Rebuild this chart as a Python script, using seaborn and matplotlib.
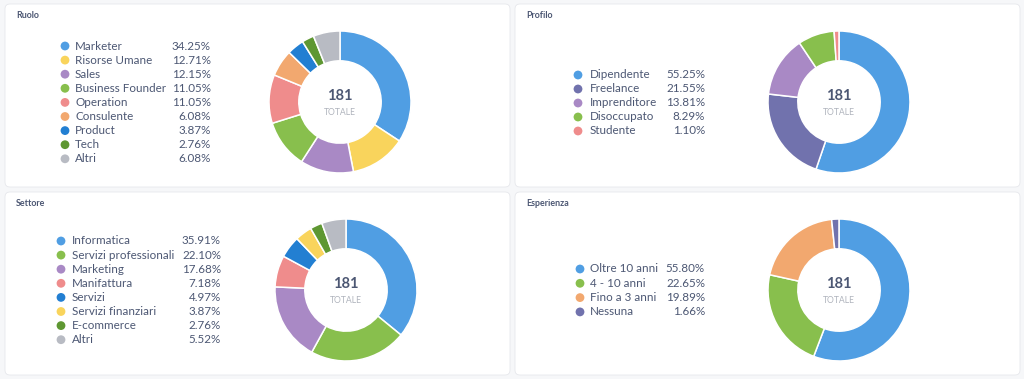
"""Four donut charts (Ruolo, Profilo, Settore, Esperienza) in a dashboard grid."""

import matplotlib

matplotlib.use('Agg')

import matplotlib.pyplot as plt
import pandas as pd
import seaborn as sns
from matplotlib.patches import FancyBboxPatch

TOTAL = 181

ruolo_labels = ['Marketer', 'Risorse Umane', 'Sales', 'Business Founder', 'Operation',
                'Consulente', 'Product', 'Tech', 'Altri']
ruolo_pct = [34.25, 12.71, 12.15, 11.05, 11.05, 6.08, 3.87, 2.76, 6.08]
ruolo_colors = ['#509EE3', '#F9D45C', '#A989C5', '#88BF4D', '#EF8C8C',
                '#F2A86F', '#227FD2', '#5E9732', '#B8BBC3']

profilo_labels = ['Dipendente', 'Freelance', 'Imprenditore', 'Disoccupato', 'Studente']
profilo_pct = [55.25, 21.55, 13.81, 8.29, 1.10]
profilo_colors = ['#509EE3', '#7172AD', '#A989C5', '#88BF4D', '#EF8C8C']

settore_labels = ['Informatica', 'Servizi professionali', 'Marketing', 'Manifattura',
                  'Servizi', 'Servizi finanziari', 'E-commerce', 'Altri']
settore_pct = [35.91, 22.10, 17.68, 7.18, 4.97, 3.87, 2.76, 5.52]
settore_colors = ['#509EE3', '#88BF4D', '#A989C5', '#EF8C8C',
                  '#227FD2', '#F9D45C', '#5E9732', '#B8BBC3']

esperienza_labels = ['Oltre 10 anni', '4 - 10 anni', 'Fino a 3 anni', 'Nessuna']
esperienza_pct = [55.80, 22.65, 19.89, 1.66]
esperienza_colors = ['#509EE3', '#88BF4D', '#F2A86F', '#7172AD']

W, H = 1024, 379
TEXT = '#4C5773'


def panel(fig, base, title, labels, pct, colors, box, donut, legend):
    x0, y0, x1, y1 = box
    base.add_patch(FancyBboxPatch(
        (x0, y0), x1 - x0, y1 - y0, boxstyle='round,pad=0,rounding_size=5',
        facecolor='white', edgecolor='#E6E8EC', linewidth=0.6, zorder=0))
    base.text(x0 + 11, y0 + 11, title, fontsize=6.4, fontweight='bold',
              color=TEXT, va='center', ha='left')

    # legend: dots through seaborn, labels and percentages as text
    dot_x, text_x, pct_x, top, step = legend
    rows = pd.DataFrame({'label': labels, 'pct': pct})
    rows['y'] = top + rows.index * step
    rows['x'] = dot_x
    sns.scatterplot(data=rows, x='x', y='y', hue='label', palette=colors,
                    s=40, linewidth=0, legend=False, ax=base, zorder=3)
    for _, row in rows.iterrows():
        base.text(text_x, row['y'], row['label'], color=TEXT, fontsize=8.4,
                  ha='left', va='center')
        base.text(pct_x, row['y'], f"{row['pct']:.2f}%", color=TEXT,
                  fontsize=8.4, ha='right', va='center')

    # donut
    cx, cy, r = donut
    ax = fig.add_axes([(cx - r) / W, 1 - (cy + r) / H, 2 * r / W, 2 * r / H])
    ax.pie(pct, colors=colors, startangle=90, counterclock=False, radius=1,
           wedgeprops=dict(width=0.42, edgecolor='white', linewidth=1.1))
    ax.set_xlim(-1, 1)
    ax.set_ylim(-1, 1)
    ax.axis('off')
    ax.text(0, 0.09, str(TOTAL), ha='center', va='center', fontsize=10.5,
            fontweight='bold', color=TEXT)
    ax.text(0, -0.15, 'TOTALE', ha='center', va='center', fontsize=6.2,
            color='#B0B4BD')


def main():
    sns.set_theme(style='white')
    plt.rcParams['font.family'] = ['Lato', 'DejaVu Sans']
    fig = plt.figure(figsize=(W / 100, H / 100), dpi=100)
    fig.patch.set_facecolor('#F6F7F9')

    base = fig.add_axes([0, 0, 1, 1])
    base.set_xlim(0, W)
    base.set_ylim(H, 0)
    base.axis('off')

    panel(fig, base, 'Ruolo', ruolo_labels, ruolo_pct, ruolo_colors,
          (5, 4, 510, 187), (340, 102, 71), (65, 75, 211, 46, 14.1))
    panel(fig, base, 'Profilo', profilo_labels, profilo_pct, profilo_colors,
          (515, 4, 1020, 187), (839, 102, 71), (578, 590, 705, 75, 14))
    panel(fig, base, 'Settore', settore_labels, settore_pct, settore_colors,
          (5, 192, 510, 375), (346, 290, 71), (61, 72, 221, 241, 14.1))
    panel(fig, base, 'Esperienza', esperienza_labels, esperienza_pct,
          esperienza_colors, (515, 192, 1020, 375), (839, 290, 71),
          (580, 590, 705, 269, 14.3))

    fig.savefig('out.png', dpi=100, facecolor=fig.get_facecolor())
    plt.close(fig)


if __name__ == '__main__':
    main()
